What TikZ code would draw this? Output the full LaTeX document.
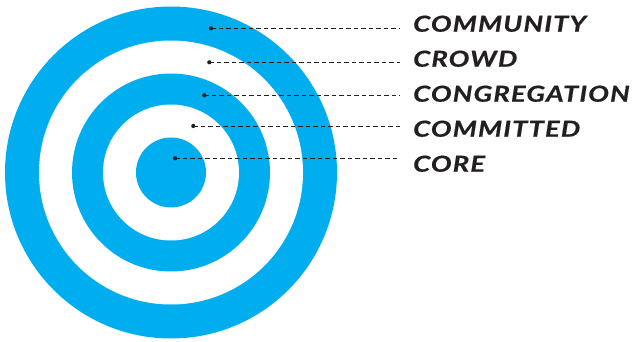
\documentclass[tikz,border=0pt]{standalone}
\usepackage{fontspec}
\setmainfont{Lato}
\newfontfamily\labelfont{Lato}[FakeStretch=1.25,LetterSpace=5,FakeBold=0.6]
\definecolor{ringblue}{RGB}{0,174,239}
\definecolor{ink}{RGB}{35,31,32}
\begin{document}
\begin{tikzpicture}[x=1pt,y=-1pt,
  ring/.style={fill=ringblue,draw=none},
  gap/.style={fill=white,draw=none},
  dot/.style={circle,fill=ink,inner sep=0pt,minimum size=4.2pt},
  leader/.style={draw=ink,line width=0.9pt,dash pattern=on 4.5pt off 3pt},
  label/.style={anchor=base west,inner sep=0pt,font=\labelfont\fontsize{22}{22}\selectfont\bfseries\itshape,text=ink}]
\useasboundingbox (0,0) rectangle (635,342);
\coordinate (c) at (171,172.5);
\fill[ring] (c) circle[radius=166];
\fill[gap] (c) circle[radius=132];
\fill[ring] (c) circle[radius=99];
\fill[gap] (c) circle[radius=68];
\fill[ring] (c) circle[radius=35];
\node[dot] (d1) at (211,28.3) {};
\node[dot] (d2) at (209.3,62.3) {};
\node[dot] (d3) at (204.3,95.3) {};
\node[dot] (d4) at (193.3,126) {};
\node[dot] (d5) at (175,158.3) {};
\coordinate (e1) at (400,28.3);
\coordinate (e2) at (400,62.3);
\coordinate (e3) at (400,95.3);
\coordinate (e4) at (400,126);
\coordinate (e5) at (400,158.3);
\foreach \i in {1,...,5} \draw[leader] (d\i.center) -- (e\i);
\node[label] (t1) at (413,31.7) {COMMUNITY};
\node[label] (t2) at (413,66.7) {CROWD};
\node[label] (t3) at (413,101.7) {CONGREGATION};
\node[label] (t4) at (413,136.7) {COMMITTED};
\node[label] (t5) at (413,171.7) {CORE};
\end{tikzpicture}
\end{document}
